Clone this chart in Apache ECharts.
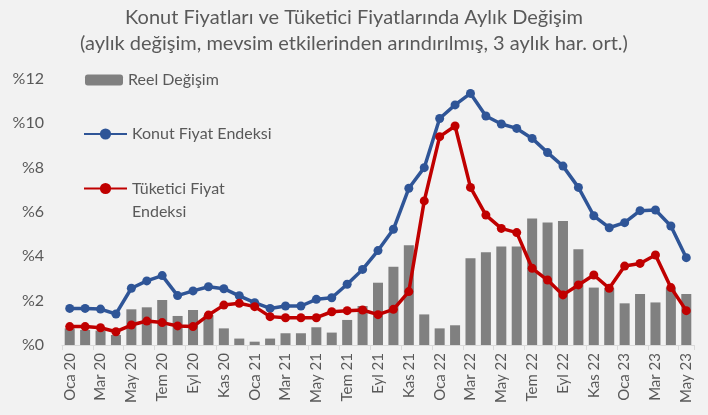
<!DOCTYPE html>
<html>
<head>
<meta charset="utf-8">
<script src="https://cdn.jsdelivr.net/npm/echarts@6/dist/echarts.min.js"></script>
<style>
html,body{margin:0;padding:0;background:#f2f2f2;}
#c{width:708px;height:415px;}
</style>
</head>
<body>
<div id="c"></div>
<script>
const months = ['Oca','Şub','Mar','Nis','May','Haz','Tem','Ağu','Eyl','Eki','Kas','Ara'];
const categories = [];
for (let y = 20; y <= 23; y++) {
  for (let m = 0; m < 12; m++) {
    if (y === 23 && m > 4) break;
    categories.push(months[m] + ' ' + y);
  }
}
const reelDegisim = [0.75,0.68,0.65,0.45,1.61,1.70,2.03,1.31,1.58,1.35,0.75,0.29,0.15,0.29,0.53,0.53,0.80,0.56,1.13,1.76,2.81,3.53,4.50,1.38,0.75,0.89,3.91,4.18,4.44,4.44,5.71,5.53,5.59,4.32,2.59,2.56,1.88,2.30,1.92,2.59,2.30];
const konutFiyat = [1.65,1.65,1.62,1.40,2.56,2.89,3.13,2.23,2.44,2.63,2.54,2.22,1.91,1.65,1.76,1.76,2.06,2.13,2.74,3.41,4.26,5.22,7.07,8.00,10.22,10.83,11.35,10.33,9.97,9.77,9.32,8.68,8.07,7.11,5.83,5.29,5.52,6.06,6.09,5.37,3.94];
const tufe = [0.83,0.83,0.78,0.60,0.90,1.08,1.01,0.86,0.83,1.35,1.80,1.88,1.73,1.28,1.23,1.23,1.23,1.50,1.55,1.58,1.37,1.61,2.41,6.50,9.40,9.88,7.11,5.86,5.26,5.07,3.46,2.93,2.26,2.71,3.16,2.56,3.56,3.68,4.06,2.59,1.55];
const yTicks = [0,2,4,6,8,10,12];

const FONT = 'Lato';
const TXT = '#595959';
const chart = echarts.init(document.getElementById('c'));
chart.setOption({
  backgroundColor: '#f2f2f2',
  animation: false,
  textStyle: {fontFamily: FONT},
  title: {
    text: 'Konut Fiyatları ve Tüketici Fiyatlarında Aylık Değişim\n(aylık değişim, mevsim etkilerinden arındırılmış, 3 aylık har. ort.)',
    left: 'center',
    top: 0,
    textStyle: {fontFamily: FONT, fontSize: 20, fontWeight: 'normal', color: TXT, lineHeight: 26}
  },
  legend: [
    {
      data: ['Reel Değişim'], left: 80, top: 67, itemWidth: 38, itemHeight: 11,
      textStyle: {fontFamily: FONT, fontSize: 16, color: TXT, lineHeight: 16}
    },
    {
      data: ['Konut Fiyat Endeksi'], left: 78, top: 121, itemWidth: 43, itemHeight: 14,
      textStyle: {fontFamily: FONT, fontSize: 16, color: TXT, lineHeight: 16}
    },
    {
      data: ['Tüketici Fiyat Endeksi'], left: 78, top: 149, itemWidth: 43, itemHeight: 14,
      formatter: function () { return '\nTüketici Fiyat\nEndeksi'; },
      textStyle: {fontFamily: FONT, fontSize: 16, color: TXT, lineHeight: 23}
    }
  ],
  grid: {left: 62, right: 14, top: 79, bottom: 70, containLabel: false},
  xAxis: {
    type: 'category',
    data: categories,
    boundaryGap: true,
    axisLine: {lineStyle: {color: '#d9d9d9', width: 1}},
    axisTick: {show: true, interval: 1, length: 5, lineStyle: {color: '#d9d9d9'}},
    axisLabel: {interval: 1, rotate: 90, fontFamily: FONT, fontSize: 15, color: TXT, margin: 8}
  },
  yAxis: {
    type: 'value',
    min: yTicks[0], max: yTicks[yTicks.length - 1], interval: 2,
    splitLine: {show: false},
    axisLine: {show: false},
    axisTick: {show: false},
    axisLabel: {fontFamily: FONT, fontSize: 16, color: TXT, margin: 18, formatter: v => '%' + v}
  },
  series: [
    {
      name: 'Reel Değişim', type: 'bar', data: reelDegisim, barWidth: '65%',
      itemStyle: {color: '#808080'}
    },
    {
      name: 'Konut Fiyat Endeksi', type: 'line', data: konutFiyat,
      symbol: 'circle', symbolSize: 9,
      lineStyle: {color: '#2F5597', width: 3.5},
      itemStyle: {color: '#2F5597'}
    },
    {
      name: 'Tüketici Fiyat Endeksi', type: 'line', data: tufe,
      symbol: 'circle', symbolSize: 9,
      lineStyle: {color: '#C00000', width: 3.5},
      itemStyle: {color: '#C00000'}
    }
  ]
});
</script>
</body>
</html>
